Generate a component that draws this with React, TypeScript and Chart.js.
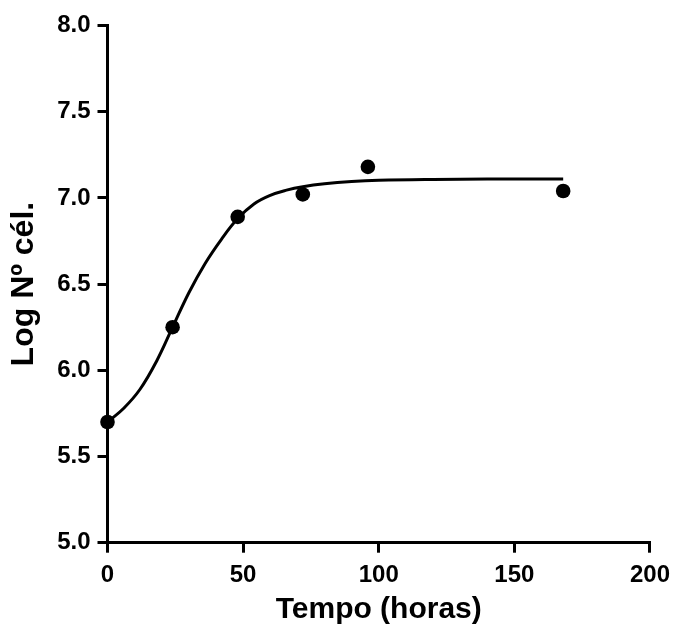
import React, { useEffect, useRef } from "react";
import { Chart, registerables } from "chart.js";

Chart.register(...registerables);

// Measured samples
const sampleHours = [0, 24, 48, 72, 96, 168];
const sampleLogCells = [5.7, 6.25, 6.89, 7.02, 7.18, 7.04];

// Fitted growth curve
const fitHours = [0, 6, 12, 18, 24, 30, 36, 42, 48, 54, 60, 66, 72, 80, 90, 100, 120, 140, 168];
const fitLogCells = [5.7, 5.78, 5.89, 6.05, 6.25, 6.45, 6.62, 6.76, 6.88, 6.965, 7.015, 7.045, 7.065, 7.082, 7.095, 7.102, 7.107, 7.109, 7.11];

const xTicks = [0, 50, 100, 150, 200];
const yTicks = [5.0, 5.5, 6.0, 6.5, 7.0, 7.5, 8.0];

const xTitle = "Tempo (horas)";
const yTitle = "Log Nº cél.";

const FONT = "'Liberation Sans', Arial, sans-serif";

export default function App() {
  const ref = useRef<HTMLCanvasElement | null>(null);

  useEffect(() => {
    if (!ref.current) return;
    const chart = new Chart(ref.current, {
      type: "scatter",
      data: {
        datasets: [
          {
            label: "curve",
            data: fitHours.map((x, i) => ({ x, y: fitLogCells[i] })),
            showLine: true,
            pointRadius: 0,
            borderColor: "#000",
            borderWidth: 3,
            tension: 0.4,
            cubicInterpolationMode: "default",
            order: 1,
            clip: false as any,
          },
          {
            label: "data",
            data: sampleHours.map((x, i) => ({ x, y: sampleLogCells[i] })),
            showLine: false,
            pointRadius: 7.3,
            pointBackgroundColor: "#000",
            pointBorderColor: "#000",
            pointBorderWidth: 0,
            order: 0,
            clip: false as any,
          },
        ],
      },
      options: {
        animation: false,
        responsive: true,
        maintainAspectRatio: false,
        layout: { padding: { left: 0, top: 25.5, right: 24.7, bottom: 0 } },
        plugins: { legend: { display: false }, tooltip: { enabled: false } },
        scales: {
          x: {
            type: "linear",
            min: 0,
            max: 200,
            afterFit: (s: any) => {
              s.height = 85.3;
            },
            afterBuildTicks: (s: any) => {
              s.ticks = xTicks.map((v) => ({ value: v }));
            },
            ticks: {
              color: "#000",
              padding: 8,
              font: { family: FONT, size: 24, weight: "bold" },
              callback: (v: any) => String(v),
              maxRotation: 0,
            },
            grid: {
              drawOnChartArea: false,
              drawTicks: true,
              tickLength: 10,
              lineWidth: 3,
              color: "#000",
            },
            border: { display: true, width: 3, color: "#000" },
            title: {
              display: true,
              text: xTitle,
              color: "#000",
              font: { family: FONT, size: 30, weight: "bold" },
              padding: { top: 0, bottom: 0 },
            },
          },
          y: {
            type: "linear",
            min: 5,
            max: 8,
            afterFit: (s: any) => {
              s.width = 107.5;
            },
            afterBuildTicks: (s: any) => {
              s.ticks = yTicks.map((v) => ({ value: v }));
            },
            ticks: {
              color: "#000",
              padding: 7,
              font: { family: FONT, size: 24, weight: "bold" },
              callback: (v: any) => Number(v).toFixed(1),
            },
            grid: {
              drawOnChartArea: false,
              drawTicks: true,
              tickLength: 10,
              lineWidth: 3,
              color: "#000",
            },
            border: { display: true, width: 3, color: "#000" },
            title: {
              display: true,
              text: yTitle,
              color: "#000",
              font: { family: FONT, size: 32, weight: "bold" },
              padding: { top: 5, bottom: 0 },
            },
          },
        },
      },
    });
    return () => chart.destroy();
  }, []);

  return (
    <div style={{ position: "absolute", left: 0, top: 0, width: 678, height: 628, background: "#fff" }}>
      <canvas ref={ref} />
    </div>
  );
}
